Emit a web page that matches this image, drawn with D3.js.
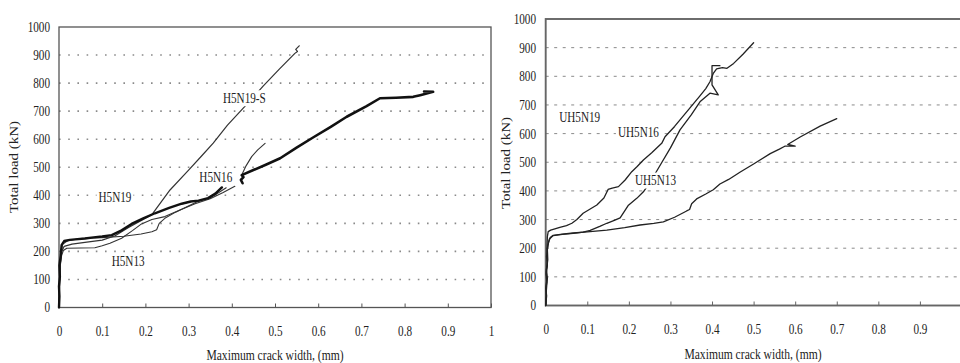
<!DOCTYPE html>
<html>
<head>
<meta charset="utf-8">
<script src="https://cdn.jsdelivr.net/npm/d3@7"></script>
<style>
  html, body { margin: 0; padding: 0; background: #fff; }
  svg { display: block; }
  text { font-family: "Liberation Serif", "Times New Roman", serif; fill: #222; }
</style>
</head>
<body>
<svg id="chart" width="960" height="363"></svg>
<script>
// Axis ticks shared by both panels
const crackTicks = [0, 0.1, 0.2, 0.3, 0.4, 0.5, 0.6, 0.7, 0.8, 0.9, 1];
const loadTicks = [0, 100, 200, 300, 400, 500, 600, 700, 800, 900, 1000];
const gridLoads = [100, 200, 300, 400, 500, 600, 700, 800, 900];

// Left panel: H-series specimens, [crack width (mm), load (kN)]
const h5n19 = [[0,0],[0.001,40],[0,75],[0.002,110],[0.001,150],[0.004,185],[0.006,222],[0.012,237],[0.025,241],[0.037,243],[0.06,246],[0.08,250],[0.1,253],[0.122,258],[0.145,275],[0.168,298],[0.195,318],[0.222,336],[0.255,355],[0.284,370],[0.305,378],[0.323,381],[0.345,390],[0.362,406],[0.377,428]];
const h5n13 = [[0,0],[0.001,90],[0.003,150],[0.006,185],[0.01,203],[0.018,211],[0.05,212],[0.083,213],[0.1,220],[0.118,229],[0.145,247],[0.17,274],[0.191,298],[0.215,314],[0.245,324],[0.28,348],[0.315,370],[0.35,388],[0.38,410],[0.407,432]];
const h5n16Lower = [[0,0],[0.002,120],[0.004,190],[0.008,225],[0.02,238],[0.05,246],[0.1,249],[0.15,254],[0.19,262],[0.215,270],[0.226,277],[0.232,300],[0.245,318],[0.27,340],[0.296,359],[0.32,377],[0.35,391],[0.37,410],[0.387,427]];
const h5n16Upper = [[0.425,443],[0.421,455],[0.427,465],[0.423,472],[0.45,490],[0.48,510],[0.512,532],[0.55,570],[0.589,607],[0.63,645],[0.666,680],[0.712,718],[0.743,746],[0.78,748],[0.82,751],[0.836,757],[0.866,769],[0.845,770]];
const h5n16Branch = [[0.423,472],[0.433,505],[0.446,538],[0.46,562],[0.477,585]];
const h5n19s = [[0,0],[0.002,130],[0.005,195],[0.012,218],[0.03,226],[0.06,232],[0.1,240],[0.13,256],[0.16,284],[0.1875,308],[0.215,331],[0.257,419],[0.3,490],[0.33,540],[0.357,586],[0.39,650],[0.426,710],[0.45,750],[0.473,790],[0.51,850],[0.546,906],[0.552,913],[0.548,920],[0.556,933]];

// Right panel: UH-series specimens
const uh5n16 = [[0,0],[0.002,35],[0,60],[0.003,90],[0.001,120],[0.004,150],[0.003,200],[0.004,240],[0.006,258],[0.012,263],[0.034,273],[0.05,279],[0.063,287],[0.075,300],[0.09,322],[0.105,335],[0.123,351],[0.14,375],[0.15,405],[0.16,410],[0.175,415],[0.191,438],[0.207,467],[0.22,485],[0.235,508],[0.255,533],[0.279,566],[0.287,589],[0.31,625],[0.33,660],[0.35,695],[0.37,730],[0.385,757],[0.395,781],[0.403,810],[0.411,826],[0.425,830],[0.436,828],[0.452,845],[0.475,878],[0.5,917]];
const uh5n13 = [[0,0],[0.001,40],[0.003,80],[0.001,110],[0.004,140],[0.002,170],[0.005,210],[0.009,232],[0.018,244],[0.04,248],[0.066,252],[0.09,256],[0.107,262],[0.13,276],[0.147,287],[0.165,297],[0.179,306],[0.19,330],[0.199,350],[0.219,374],[0.235,397],[0.25,428],[0.271,479],[0.3,550],[0.323,613],[0.35,665],[0.371,711],[0.395,741],[0.415,735],[0.4,770],[0.4,837],[0.419,837]];
const uh5n19 = [[0,0],[0.002,30],[0.001,65],[0.004,95],[0.002,125],[0.005,160],[0.004,195],[0.007,222],[0.011,237],[0.018,245],[0.04,249],[0.066,253],[0.1,257],[0.147,263],[0.19,272],[0.227,281],[0.26,287],[0.283,292],[0.31,308],[0.339,330],[0.346,335],[0.351,355],[0.363,372],[0.385,389],[0.403,404],[0.419,424],[0.44,440],[0.468,466],[0.5,494],[0.54,530],[0.562,546],[0.575,556],[0.6,556],[0.582,562],[0.612,588],[0.66,626],[0.7,652]];

const svg = d3.select("#chart");
const W = 960;
const SQ = 0.8; // horizontal squeeze of the serif lettering
const FONT = "'Liberation Serif', 'Times New Roman', serif";

function squeezedText(g, str, x, y, size, anchor) {
  return g.append("text")
    .attr("transform", `translate(${x},${y}) scale(${SQ},1)`)
    .attr("text-anchor", anchor || "middle")
    .attr("dy", "0.35em")
    .style("font-size", size + "px")
    .text(str);
}

function panel(opts) {
  const g = svg.append("g");
  const x = d3.scaleLinear().domain([0, 1]).range(opts.xRange);
  const y = d3.scaleLinear().domain([0, 1000]).range(opts.yRange);

  // horizontal grid
  g.append("g").selectAll("line").data(gridLoads).join("line")
    .attr("x1", x(0)).attr("x2", x(1))
    .attr("y1", d => y(d)).attr("y2", d => y(d))
    .attr("stroke", opts.gridColor)
    .attr("stroke-width", opts.gridWidth)
    .attr("stroke-dasharray", opts.gridDash);

  // x axis with inward ticks (only ticks that fall inside the page)
  const shownTicks = crackTicks.filter(d => x(d) < W - 2);
  const xa = g.append("g").attr("transform", `translate(0,${y(0)})`)
    .call(d3.axisBottom(x).tickValues(shownTicks).tickSize(-4).tickPadding(19).tickFormat(d => String(d)))
    .attr("font-size", 14).attr("font-family", FONT);
  xa.select(".domain").remove();
  xa.selectAll(".tick line").attr("stroke", opts.frameColor).attr("stroke-width", 1);
  xa.selectAll(".tick text")
    .attr("transform", `scale(${SQ},1)`)
    .attr("fill", "#222");

  // y axis labels
  const ya = g.append("g").attr("transform", `translate(${x(0)},0)`)
    .call(d3.axisLeft(y).tickValues(loadTicks).tickSize(0).tickPadding(opts.yPad).tickFormat(d => String(d)))
    .attr("font-size", 14).attr("font-family", FONT);
  ya.select(".domain").remove();
  ya.selectAll(".tick text")
    .attr("x", -opts.yPad / SQ)
    .attr("transform", `scale(${SQ},1)`)
    .attr("fill", "#222");

  // plot frame
  g.append("rect")
    .attr("x", x(0)).attr("y", y(1000))
    .attr("width", x(1) - x(0)).attr("height", y(0) - y(1000))
    .attr("fill", "none")
    .attr("stroke", opts.frameColor)
    .attr("stroke-width", opts.frameWidth);

  const line = d3.line().x(d => x(d[0])).y(d => y(d[1]));
  const curves = g.append("g").attr("fill", "none")
    .attr("stroke-linejoin", "round").attr("stroke-linecap", "round");
  opts.series.forEach(s => {
    curves.append("path").datum(s.data)
      .attr("d", line)
      .attr("stroke", s.color)
      .attr("stroke-width", s.width);
  });

  // specimen labels on a white ground
  opts.labels.forEach(l => {
    const cx = x(l.at[0]), cy = y(l.at[1]);
    const t = squeezedText(g, l.text, cx, cy, 14);
    const w = t.node().getComputedTextLength() * SQ;
    g.insert("rect", () => t.node())
      .attr("x", cx - w / 2 - 2).attr("y", cy - 8)
      .attr("width", w + 4).attr("height", 16)
      .attr("fill", "#fff");
  });

  // axis titles
  squeezedText(g, "Maximum crack width, (mm)", opts.xTitle[0], opts.xTitle[1], 14.5);
  g.append("text")
    .attr("transform", `translate(${opts.yTitle[0]},${opts.yTitle[1]}) rotate(-90) scale(1,${SQ})`)
    .attr("text-anchor", "middle")
    .attr("dy", "0.35em")
    .style("font-size", "15px")
    .text("Total load (kN)");
}

panel({
  xRange: [59, 491],
  yRange: [307.5, 27],
  yPad: 9,
  gridColor: "#8a8a8a",
  gridWidth: 1.6,
  gridDash: "1.6,7.6",
  frameColor: "#555",
  frameWidth: 1.3,
  series: [
    { data: h5n13, width: 1.1, color: "#333" },
    { data: h5n16Lower, width: 1.1, color: "#333" },
    { data: h5n19s, width: 1.2, color: "#333" },
    { data: h5n16Branch, width: 1.1, color: "#333" },
    { data: h5n19, width: 2.4, color: "#111" },
    { data: h5n16Upper, width: 2.6, color: "#111" }
  ],
  labels: [
    { text: "H5N19", at: [0.1296, 393] },
    { text: "H5N13", at: [0.16, 166] },
    { text: "H5N16", at: [0.363, 466] },
    { text: "H5N19-S", at: [0.429, 746] }
  ],
  xTitle: [275, 355],
  yTitle: [14, 167]
});

panel({
  xRange: [545.7, 961.5],
  yRange: [305.5, 19],
  yPad: 9.7,
  gridColor: "#8a8a8a",
  gridWidth: 1,
  gridDash: "3,5.5",
  frameColor: "#666",
  frameWidth: 1.9,
  series: [
    { data: uh5n19, width: 1.3, color: "#222" },
    { data: uh5n13, width: 1.3, color: "#222" },
    { data: uh5n16, width: 1.3, color: "#222" }
  ],
  labels: [
    { text: "UH5N19", at: [0.0818, 657] },
    { text: "UH5N16", at: [0.223, 605] },
    { text: "UH5N13", at: [0.264, 436] }
  ],
  xTitle: [753, 354],
  yTitle: [506, 163]
});
</script>
</body>
</html>
